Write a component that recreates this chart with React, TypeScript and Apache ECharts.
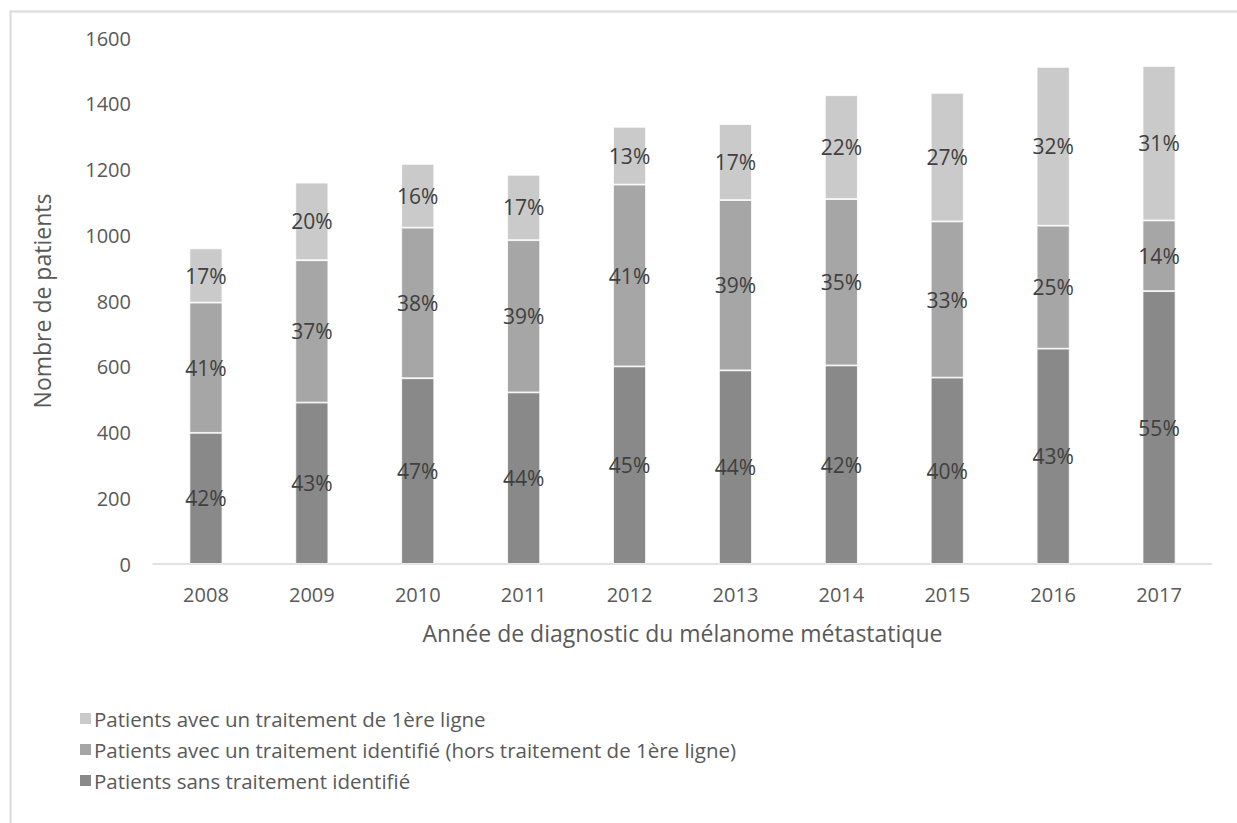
import React, { useEffect, useRef } from "react";
import * as echarts from "echarts";

const years = ["2008", "2009", "2010", "2011", "2012", "2013", "2014", "2015", "2016", "2017"];
const sansTraitement = [399, 491, 565, 522, 601, 589, 604, 567, 655, 830];
const traitementIdentifie = [396, 433, 458, 463, 553, 518, 506, 475, 374, 215];
const traitementPremiere = [165, 236, 194, 199, 176, 231, 316, 391, 483, 470];
const sansPct = [42, 43, 47, 44, 45, 44, 42, 40, 43, 55];
const identPct = [41, 37, 38, 39, 41, 39, 35, 33, 25, 14];
const premPct = [17, 20, 16, 17, 13, 17, 22, 27, 32, 31];

const seriesNames = [
  "Patients sans traitement identifié",
  "Patients avec un traitement identifié (hors traitement de 1ère ligne)",
  "Patients avec un traitement de 1ère ligne",
];

const FONT = "'Open Sans', sans-serif";

export default function App() {
  const ref = useRef<HTMLDivElement>(null);
  useEffect(() => {
    if (!ref.current) return;
    const chart = echarts.init(ref.current, null, { renderer: "svg" });
    const mk = (name: string, data: number[], pct: number[], color: string) => ({
      name,
      type: "bar",
      stack: "total",
      data,
      barWidth: 33,
      itemStyle: { color, borderColor: "#ffffff", borderWidth: 0.8 },
      label: {
        show: true,
        position: "inside",
        formatter: (p: any) => pct[p.dataIndex] + "%",
        color: "#404040",
        fontFamily: FONT,
        fontSize: 21,
      },
    });
    chart.setOption({
      animation: false,
      backgroundColor: "#ffffff",
      textStyle: { fontFamily: FONT },
      graphic: [
        {
          type: "rect",
          left: 8,
          top: 9,
          shape: { width: 1260, height: 860 },
          style: { fill: "none", stroke: "#d9d9d9", lineWidth: 2 },
          silent: true,
        },
      ],
      grid: { left: 153, right: 25, top: 38, bottom: 259 },
      legend: {
        orient: "vertical",
        left: 73,
        top: 703,
        itemWidth: 13,
        itemHeight: 13,
        itemGap: 10,
        icon: "rect",
        data: [seriesNames[2], seriesNames[1], seriesNames[0]],
        textStyle: { color: "#595959", fontFamily: FONT, fontSize: 20.5, padding: [0, 0, 0, -3] },
        selectedMode: false,
      },
      xAxis: {
        type: "category",
        data: years,
        axisLine: { lineStyle: { color: "#d9d9d9", width: 1.5 } },
        axisTick: { show: false },
        axisLabel: { color: "#595959", fontFamily: FONT, fontSize: 20, margin: 20 },
        name: "Année de diagnostic du mélanome métastatique",
        nameLocation: "middle",
        nameGap: 57,
        nameTextStyle: { color: "#595959", fontFamily: FONT, fontSize: 23 },
      },
      yAxis: {
        type: "value",
        min: 0,
        max: 1600,
        interval: 200,
        splitLine: { show: false },
        axisLine: { show: false },
        axisTick: { show: false },
        axisLabel: {
          color: "#595959",
          fontFamily: FONT,
          fontSize: 20,
          margin: 22,
          formatter: (v: number) => String(v),
        },
        name: "Nombre de patients",
        nameLocation: "middle",
        nameGap: 100,
        nameRotate: 90,
        nameTextStyle: { color: "#595959", fontFamily: FONT, fontSize: 23 },
      },
      series: [
        mk(seriesNames[0], sansTraitement, sansPct, "#898989"),
        mk(seriesNames[1], traitementIdentifie, identPct, "#a6a6a6"),
        mk(seriesNames[2], traitementPremiere, premPct, "#cacaca"),
      ],
    });
    return () => chart.dispose();
  }, []);
  return (
    <div
      ref={ref}
      style={{ position: "absolute", left: 0, top: 0, width: 1237, height: 823 }}
    />
  );
}
